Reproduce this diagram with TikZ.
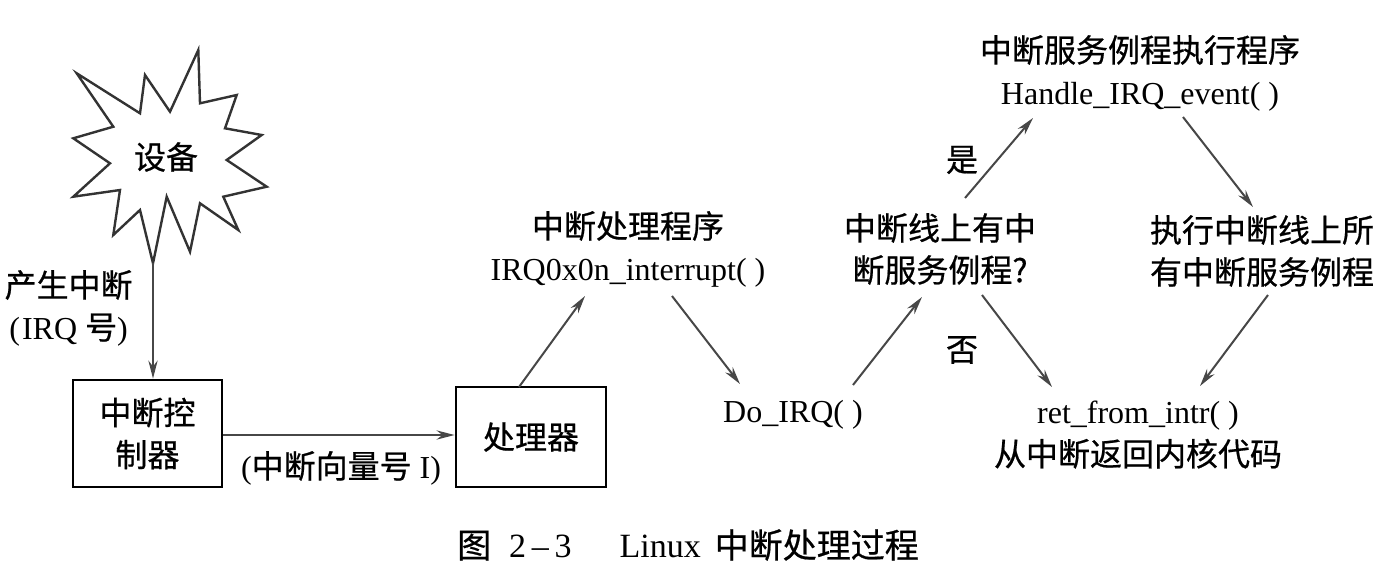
\documentclass[tikz,border=0pt]{standalone}
\usepackage{fontspec}
\setmainfont{Liberation Serif}
\newfontfamily\cjk[FakeBold=0.6]{Noto Sans CJK SC}
\usetikzlibrary{arrows.meta}
\begin{document}
\begin{tikzpicture}[x=0.5pt,y=-0.5pt,
  txt/.style={font=\fontsize{16}{21}\selectfont, align=center, inner sep=0pt},
  arr/.style={draw=black!72, line width=1pt, -{Stealth[length=9pt,width=4.6pt]}},
  boxnode/.style={draw, line width=1.4pt, inner sep=0pt, font=\fontsize{16}{21}\selectfont\cjk, align=center}]
\useasboundingbox (0,0) rectangle (1386,574);
% device starburst
\draw[line width=1.2pt, line join=miter, black!80]
  (76.7,73.3) -- (140,113.3) -- (145,75) -- (170,111.7) -- (198.3,50) -- (200,103.3)
  -- (236.7,95) -- (225,128.3) -- (261.7,135) -- (226.7,160) -- (266.7,186.7)
  -- (223.3,196.7) -- (238.3,230) -- (200,203.3) -- (190,251.7) -- (166.7,196.7)
  -- (153,263.3) -- (140,210) -- (113.3,235) -- (120,190) -- (73.3,196.7)
  -- (110,163.3) -- (73.3,138.3) -- (113.3,126.7) -- cycle;
\node[txt] (dev) at (166,157) {\cjk 设备};
\coordinate (starbot) at (153,263.3);
% boxes
\node[boxnode, minimum width=74.5pt, minimum height=53.5pt] (ctrl) at (147.5,433.5) {中断控\\制器};
\node[boxnode, minimum width=75pt, minimum height=50pt] (cpu) at (531,437) {处理器};
% labels
\node[txt, anchor=east] (gen) at (133,308) {{\cjk 产生中断}\\({\kern1pt}IRQ {\cjk 号})};
\node[txt] (vec) at (341,468) {({\cjk 中断向量号} I)};
\node[txt] (irq) at (628,249) {{\cjk 中断处理程序}\\IRQ0x0n\_interrupt( )};
\node[txt] (doirq) at (793,415) {Do\_IRQ( )};
\node[txt] (chk) at (940,249) {{\cjk 中断线上有中}\\{\cjk 断服务例程?}};
\node[txt] (hdl) at (1140,73) {{\cjk 中断服务例程执行程序}\\Handle\_IRQ\_event( )};
\node[txt] (exe) at (1262,251) {{\cjk 执行中断线上所}\\{\cjk 有中断服务例程}};
\node[txt] (ret) at (1138,435) {ret\_from\_intr( )\\{\cjk 从中断返回内核代码}};
\node[txt] (yes) at (962,160) {\cjk 是};
\node[txt] (no) at (962,350) {\cjk 否};
\node[txt, font=\fontsize{17}{21}\selectfont] (cap) at (688,545) {{\cjk 图}\hspace{9pt}2\,–\,3\hspace{24pt}Linux\hspace{7pt}{\cjk 中断处理过程}};
% connector end points
\coordinate (cpuT) at (519,387);
\coordinate (irqB1) at (585,296);
\coordinate (irqB2) at (672,296);
\coordinate (doT1) at (740,384);
\coordinate (doT2) at (853,385);
\coordinate (chkB1) at (922,297);
\coordinate (chkT) at (965,198);
\coordinate (hdlB1) at (1033,118);
\coordinate (hdlB2) at (1183,117);
\coordinate (exeT) at (1253,207);
\coordinate (exeB) at (1268,295);
\coordinate (retT2) at (1200,386);
\coordinate (chkB2) at (982,295);
\coordinate (retT1) at (1052,387);
% connectors
\draw[arr] (starbot) -- (ctrl.north -| starbot);
\draw[arr] (ctrl.east |- 0,435) -- (cpu.west |- 0,435);
\draw[arr] (cpuT) -- (irqB1);
\draw[arr] (irqB2) -- (doT1);
\draw[arr] (doT2) -- (chkB1);
\draw[arr] (chkT) -- (hdlB1);
\draw[arr] (hdlB2) -- (exeT);
\draw[arr] (exeB) -- (retT2);
\draw[arr] (chkB2) -- (retT1);
\end{tikzpicture}
\end{document}
